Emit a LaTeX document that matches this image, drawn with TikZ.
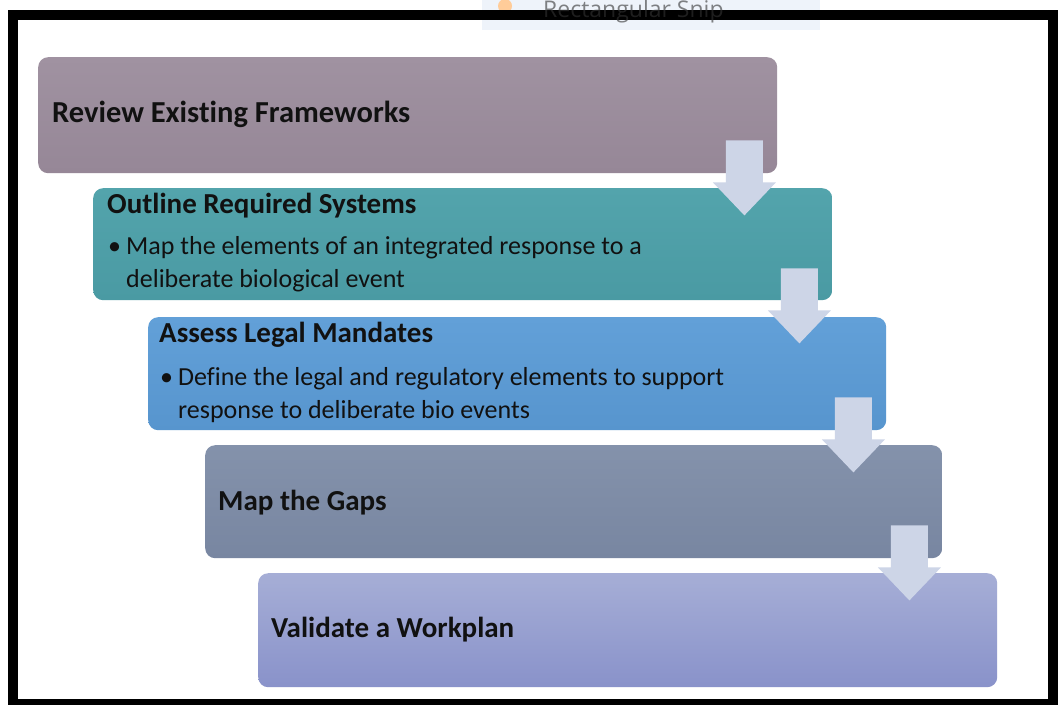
\documentclass[tikz,border=0pt]{standalone}
\usepackage{fontspec}
\setmainfont{Carlito}[Ligatures={NoCommon}]
\newfontfamily\uifont{Open Sans}
\usetikzlibrary{calc}

\definecolor{mauveTop}{HTML}{A092A1}
\definecolor{mauveBot}{HTML}{968797}
\definecolor{tealTop}{HTML}{53A4AC}
\definecolor{tealBot}{HTML}{4A9AA3}
\definecolor{blueTop}{HTML}{62A0D8}
\definecolor{blueBot}{HTML}{5795CE}
\definecolor{slateTop}{HTML}{8492AB}
\definecolor{slateBot}{HTML}{7886A1}
\definecolor{lavTop}{HTML}{A6AED6}
\definecolor{lavBot}{HTML}{8992CA}
\definecolor{arrowFill}{HTML}{CDD5E7}
\definecolor{inkText}{HTML}{111111}
\definecolor{snipBg}{HTML}{EEF3FA}

\tikzset{
  stepbox/.style={rectangle, rounded corners=10pt, inner sep=0pt,
    anchor=north west, draw=none},
  steptitle/.style={anchor=base west, inner sep=0pt, text=inkText,
    font=\bfseries\fontsize{29}{34}\selectfont},
  stepbullet/.style={anchor=base west, inner sep=0pt, text=inkText,
    font=\fontsize{26}{32}\selectfont},
  flowarrow/.style={fill=arrowFill, draw=none},
}

% block arrow pointing down; #1 = top centre of the shaft
\newcommand{\downblock}[1]{%
  \fill[flowarrow] ($#1+(-18.5,0)$) -- ($#1+(18.5,0)$) -- ($#1+(18.5,42)$)
    -- ($#1+(31.5,42)$) -- ($#1+(0,75)$) -- ($#1+(-31.5,42)$)
    -- ($#1+(-18.5,42)$) -- cycle;}

\begin{document}
\begin{tikzpicture}[x=1pt,y=-1pt]
\useasboundingbox (0,0) rectangle (1064,704);
\clip (0,0) rectangle (1064,704);
\fill[white] (0,0) rectangle (1064,704);

% five stepped stages
\node[stepbox, top color=mauveTop, bottom color=mauveBot,
  minimum width=739pt, minimum height=116pt] (b1) at (38,57) {};
\node[stepbox, top color=tealTop, bottom color=tealBot,
  minimum width=739pt, minimum height=112pt] (b2) at (93,188) {};
\node[stepbox, top color=blueTop, bottom color=blueBot,
  minimum width=738pt, minimum height=113pt] (b3) at (148,317) {};
\node[stepbox, top color=slateTop, bottom color=slateBot,
  minimum width=737pt, minimum height=113pt] (b4) at (205,445) {};
\node[stepbox, top color=lavTop, bottom color=lavBot,
  minimum width=739pt, minimum height=114pt] (b5) at (258,573) {};

% stage labels
\node[steptitle, font=\bfseries\fontsize{30.5}{34}\selectfont] (t1) at (52,122) {Review Existing Frameworks};
\node[steptitle] (t2) at (107,213) {Outline Required Systems};
\node[stepbullet] (d2a) at (108,254) {•};
\node[stepbullet] (d2b) at (126,254) {Map the elements of an integrated response to a};
\node[stepbullet] (d2c) at (126,287) {deliberate biological event};
\node[steptitle] (t3) at (159,342) {Assess Legal Mandates};
\node[stepbullet] (d3a) at (160,385) {•};
\node[stepbullet] (d3b) at (178,385) {Define the legal and regulatory elements to support};
\node[stepbullet] (d3c) at (178,418) {response to deliberate bio events};
\node[steptitle] (t4) at (218,510) {Map the Gaps};
\node[steptitle] (t5) at (271,637) {Validate a Workplan};

% arrows linking each stage to the next
\coordinate (a1) at ($(b1.south east)+(-33,-33)$);
\coordinate (a2) at ($(b2.south east)+(-33,-32)$);
\coordinate (a3) at ($(b3.south east)+(-33,-33)$);
\coordinate (a4) at ($(b4.south east)+(-33,-33)$);
\downblock{(a1)}
\downblock{(a2)}
\downblock{(a3)}
\downblock{(a4)}

% snipping tool tab at the top edge
\fill[snipBg] (482,0) rectangle (820,30);
\fill[orange!40!white] (505,6) circle (7);

% outer frame
\draw[line width=10pt, black] (13,14.5) rectangle (1052.5,704);

\node[anchor=base west, inner sep=0pt, text=black!80, opacity=0.6,
  font=\uifont\fontsize{23}{26}\selectfont] (snip) at (543,17) {Rectangular Snip};
\end{tikzpicture}
\end{document}
